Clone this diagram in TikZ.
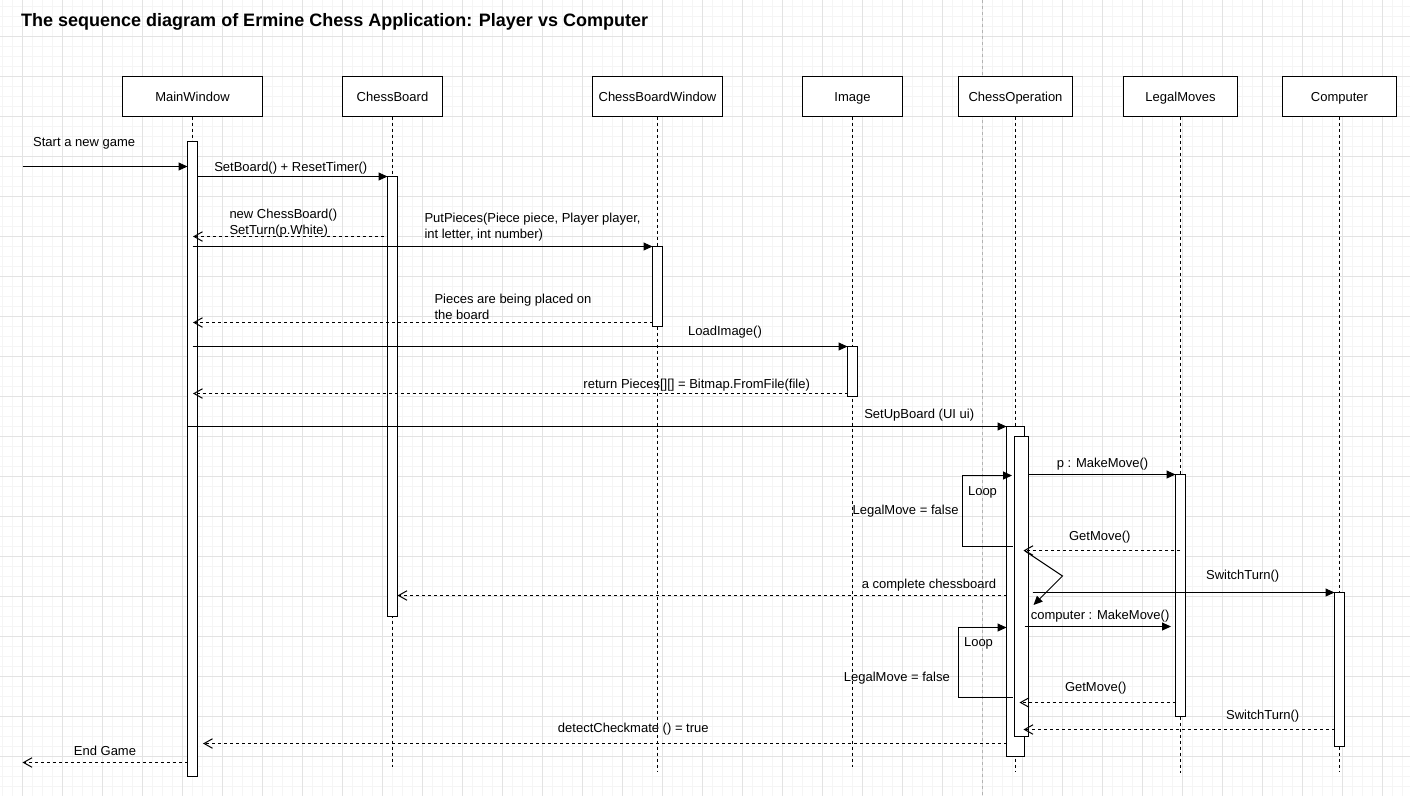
\documentclass[tikz,border=0pt]{standalone}
\usepackage{fontspec}
\setmainfont{Liberation Sans}
\usetikzlibrary{arrows.meta}
\begin{document}
\begin{tikzpicture}[x=1pt,y=-1pt,
  lbl/.style={font=\fontsize{13}{16}\selectfont, inner sep=0pt, text height=11pt, text depth=1.8pt},
  ml/.style={font=\fontsize{13}{16.4}\selectfont, inner sep=0pt, align=left},
  head/.style={draw, fill=white, line width=1pt, minimum height=40pt, inner sep=0pt, outer sep=0pt, font=\fontsize{13}{16}\selectfont, text height=11pt, text depth=1.8pt},
  bar/.style={draw, fill=white, line width=1pt, inner sep=0pt, outer sep=0pt, anchor=north west},
  life/.style={line width=1pt, dash pattern=on 3pt off 3pt},
  msg/.style={line width=1pt, -{Triangle[length=9pt,width=8pt]}},
  ret/.style={line width=1pt, dash pattern=on 3pt off 3pt, -{Straight Barb[length=8.5pt,width=9.5pt,line width=1pt]}},
  minor/.style={draw=black!4, line width=1pt},
  major/.style={draw=black!11, line width=1pt},
]
\useasboundingbox (0,0) rectangle (1410,796);
\fill[white] (0,0) rectangle (1410,796);
\foreach \x in {2,12,...,1402} \draw[minor] (\x,0) -- (\x,796);
\foreach \y in {6,16,...,786} \draw[minor] (0,\y) -- (1410,\y);
\foreach \x in {22,62,...,1382} \draw[major] (\x,0) -- (\x,796);
\foreach \y in {36,76,...,756} \draw[major] (0,\y) -- (1410,\y);
% page break
\draw[line width=1pt, draw=black!30, dash pattern=on 3pt off 3pt] (982.5,0) -- (982.5,796);

% title
\node[anchor=west, inner sep=0pt, font=\bfseries\fontsize{18}{20}\selectfont] (title) at (21,21.5)
  {The sequence diagram of Ermine Chess Application: Player vs Computer};

% heads
\node[head, minimum width=140pt] (mw) at (192.5,96.5) {MainWindow};
\node[head, minimum width=100pt] (cb) at (392.5,96.5) {ChessBoard};
\node[head, minimum width=130pt] (cbw) at (657.5,96.5) {ChessBoardWindow};
\node[head, minimum width=100pt] (img) at (852.5,96.5) {Image};
\node[head, minimum width=114pt] (cop) at (1015.5,96.5) {ChessOperation};
\node[head, minimum width=114pt] (lm) at (1180.5,96.5) {LegalMoves};
\node[head, minimum width=114pt] (comp) at (1339.5,96.5) {Computer};

% lifeline ends
\coordinate (mwE) at (192.5,770);
\coordinate (cbE) at (392.5,767);
\coordinate (cbwE) at (657.5,772);
\coordinate (imgE) at (852.5,767);
\coordinate (copE) at (1015.5,771);
\coordinate (lmE) at (1180.5,773);
\coordinate (compE) at (1339.5,772);
\draw[life] (mw.south) -- (mwE);
\draw[life] (cb.south) -- (cbE);
\draw[life] (cbw.south) -- (cbwE);
\draw[life] (img.south) -- (imgE);
\draw[life] (cop.south) -- (copE);
\draw[life] (lm.south) -- (lmE);
\draw[life] (comp.south) -- (compE);

% activation bars
\node[bar, minimum width=10pt, minimum height=635pt] (mwbar) at (187.5,141.5) {};
\node[bar, minimum width=10pt, minimum height=440pt] (cbbar) at (387.5,176.5) {};
\node[bar, minimum width=10pt, minimum height=80pt] (cbwbar) at (652.5,246.5) {};
\node[bar, minimum width=10pt, minimum height=50pt] (imgbar) at (847.5,346.5) {};
\node[bar, minimum width=18pt, minimum height=330pt] (copbar) at (1006.5,426.5) {};
\node[bar, minimum width=10pt, minimum height=242pt] (lmbar) at (1175.5,474.5) {};
\node[bar, minimum width=10pt, minimum height=154pt] (compbar) at (1334.5,592.5) {};

% loops (over outer bar)
\coordinate (la1) at (1012.5,546.5);
\coordinate (lb1) at (962.5,546.5);
\coordinate (lc1) at (962.5,475.5);
\coordinate (ld1) at (1012,475.5);
\draw[msg] (la1) -- (lb1) -- (lc1) -- (ld1);
\coordinate (la2) at (1012.5,697.5);
\coordinate (lb2) at (958.5,697.5);
\coordinate (lc2) at (958.5,627.5);
\coordinate (ld2) at (1006.5,627.5);
\draw[msg] (la2) -- (lb2) -- (lc2) -- (ld2);

\node[bar, minimum width=14pt, minimum height=300pt] (copin) at (1014.5,436.5) {};

% messages
\coordinate (start) at (22.5,166.5);
\coordinate (m1e) at (187.5,166.5);
\draw[msg] (start) -- (m1e);
\node[lbl, anchor=west] (t1) at (33,141.7) {Start a new game};

\coordinate (m2s) at (197.5,176.5);
\coordinate (m2e) at (387.5,176.5);
\draw[msg] (m2s) -- (m2e);
\node[lbl] (t2) at (290.8,167.3) {SetBoard() + ResetTimer()};

\coordinate (m3s) at (384,236.5);
\coordinate (m3e) at (193,236.5);
\draw[ret] (m3s) -- (m3e);
\node[ml, anchor=west] (t3) at (229.3,223) {new ChessBoard()\\SetTurn(p.White)};

\coordinate (m4s) at (192.5,246.5);
\coordinate (m4e) at (652.5,246.5);
\draw[msg] (m4s) -- (m4e);
\node[ml, anchor=west] (t4) at (424.3,227) {PutPieces(Piece piece, Player player,\\int letter, int number)};

\coordinate (m5s) at (652.5,322.5);
\coordinate (m5e) at (193,322.5);
\draw[ret] (m5s) -- (m5e);
\node[ml, anchor=west] (t5) at (434.3,307) {Pieces are being placed on\\the board};

\coordinate (m6s) at (192.5,346.5);
\coordinate (m6e) at (847.5,346.5);
\draw[msg] (m6s) -- (m6e);
\node[lbl] (t6) at (725,330.7) {LoadImage()};

\coordinate (m7s) at (847.5,393.5);
\coordinate (m7e) at (193,393.5);
\draw[ret] (m7s) -- (m7e);
\node[lbl] (t7) at (696.7,384.3) {return Pieces[][] = Bitmap.FromFile(file)};

\coordinate (m8s) at (188,426.5);
\coordinate (m8e) at (1006.5,426.5);
\draw[msg] (m8s) -- (m8e);
\node[lbl] (t8) at (919.2,414) {SetUpBoard (UI ui)};

\coordinate (m9s) at (1028.5,474.5);
\coordinate (m9e) at (1175.5,474.5);
\draw[msg] (m9s) -- (m9e);
\node[lbl] (t9) at (1102.5,463.3) {p : MakeMove()};

\node[lbl] (loop1) at (982.5,490.7) {Loop};
\node[lbl, anchor=east] (lf1) at (958.7,510.3) {LegalMove = false};

\coordinate (m10s) at (1180,550.5);
\coordinate (m10e) at (1023.5,550.5);
\draw[ret] (m10s) -- (m10e);
\node[lbl] (t10) at (1099.8,535.7) {GetMove()};

\coordinate (z1) at (1025,551);
\coordinate (z2) at (1062.5,576);
\coordinate (z3) at (1033.5,605);
\draw[line width=1pt, -{Triangle[length=9pt,width=8pt]}] (z1) -- (z2) -- (z3);

\coordinate (m11s) at (1006.5,595.5);
\coordinate (m11e) at (397.5,595.5);
\draw[ret] (m11s) -- (m11e);
\node[lbl] (t11) at (929,583.7) {a complete chessboard};

\coordinate (m12s) at (1032.5,592.5);
\coordinate (m12e) at (1334.5,592.5);
\draw[msg] (m12s) -- (m12e);
\node[lbl] (t12) at (1242.7,575.3) {SwitchTurn()};

\coordinate (m13s) at (1024.5,626.5);
\coordinate (m13e) at (1171,626.5);
\draw[msg] (m13s) -- (m13e);
\node[lbl, anchor=west] (t13) at (1030.7,615) {computer : MakeMove()};

\node[lbl] (loop2) at (978.5,642.3) {Loop};
\node[lbl, anchor=east] (lf2) at (950,677) {LegalMove = false};

\coordinate (m14s) at (1176,702.5);
\coordinate (m14e) at (1019.5,702.5);
\draw[ret] (m14s) -- (m14e);
\node[lbl] (t14) at (1095.7,687.3) {GetMove()};

\coordinate (m15s) at (1334.5,729.5);
\coordinate (m15e) at (1023.5,729.5);
\draw[ret] (m15s) -- (m15e);
\node[lbl] (t15) at (1262.7,715.3) {SwitchTurn()};

\coordinate (m16s) at (1006.5,743.5);
\coordinate (m16e) at (203,743.5);
\draw[ret] (m16s) -- (m16e);
\node[lbl] (t16) at (633.3,728.3) {detectCheckmate () = true};

\coordinate (m17s) at (187.5,762.5);
\coordinate (m17e) at (22.5,762.5);
\draw[ret] (m17s) -- (m17e);
\node[lbl] (t17) at (105,750.7) {End Game};
\end{tikzpicture}
\end{document}
